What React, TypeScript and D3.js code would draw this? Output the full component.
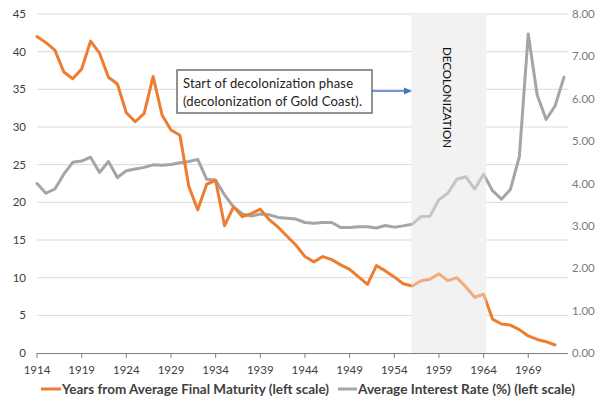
import React from "react";
import * as d3 from "d3";

const years: number[] = d3.range(1914, 1974);

const maturity: (number | null)[] = [
  42.0, 41.2, 40.2, 37.3, 36.4, 37.7, 41.4, 39.8, 36.6, 35.7,
  31.9, 30.7, 31.8, 36.7, 31.6, 29.6, 28.9, 22.1, 19.0, 22.4,
  22.9, 16.9, 19.4, 18.1, 18.5, 19.1, 17.7, 16.7, 15.5, 14.3,
  12.8, 12.1, 12.8, 12.4, 11.7, 11.1, 10.1, 9.1, 11.6, 10.9,
  10.1, 9.2, 8.9, 9.6, 9.8, 10.5, 9.6, 10.0, 8.8, 7.4,
  7.8, 4.5, 3.85, 3.7, 3.1, 2.26, 1.8, 1.5, 1.06, null,
];

const interest: number[] = [
  4.0, 3.77, 3.87, 4.22, 4.5, 4.53, 4.62, 4.26, 4.52, 4.14,
  4.3, 4.34, 4.38, 4.44, 4.43, 4.45, 4.49, 4.52, 4.57, 4.1,
  4.08, 3.73, 3.45, 3.28, 3.23, 3.28, 3.26, 3.2, 3.18, 3.16,
  3.08, 3.06, 3.08, 3.08, 2.96, 2.96, 2.98, 2.98, 2.95, 3.01,
  2.97, 3.0, 3.04, 3.22, 3.23, 3.62, 3.77, 4.1, 4.16, 3.87,
  4.22, 3.83, 3.63, 3.86, 4.63, 7.53, 6.09, 5.51, 5.83, 6.51,
];

const leftTicks: number[] = [0, 5, 10, 15, 20, 25, 30, 35, 40, 45];
const rightTicks: number[] = [0, 1, 2, 3, 4, 5, 6, 7, 8];
const xTickYears: number[] = [1914, 1919, 1924, 1929, 1934, 1939, 1944, 1949, 1954, 1959, 1964, 1969];
const bandYears: [number, number] = [1955.9, 1964.3];

const seriesNames = [
  "Years from Average Final Maturity (left scale)",
  "Average Interest Rate (%) (left scale)",
];
const annotationLines = ["Start of decolonization phase", "(decolonization of Gold Coast)."];
const bandLabel = "DECOLONIZATION";

const ORANGE = "#ED7D31";
const GRAY = "#A5A5A5";
const FONT = "Lato, 'Open Sans', sans-serif";

export default function App() {
  const W = 600, H = 401;
  const x = d3.scaleLinear().domain([1914, 1973.45]).range([37, 568]);
  const yL = d3.scaleLinear().domain([0, 45]).range([353, 14]);
  const yR = d3.scaleLinear().domain([0, 8]).range([353, 14]);

  const lineL = d3
    .line<number | null>()
    .defined((d) => d !== null)
    .x((_, i) => x(years[i]))
    .y((d) => yL(d as number));
  const lineR = d3
    .line<number>()
    .x((_, i) => x(years[i]))
    .y((d) => yR(d));

  const bx0 = x(bandYears[0]);
  const bx1 = x(bandYears[1]);

  return (
    <svg
      width={W}
      height={H}
      style={{ position: "absolute", left: 0, top: 0, background: "#fff" }}
      fontFamily={FONT}
    >
      <rect x={0} y={0} width={W} height={H} fill="#fff" />
      {leftTicks.slice(1).map((t) => (
        <line key={t} x1={37} x2={568} y1={yL(t)} y2={yL(t)} stroke="#d9d9d9" strokeWidth={1} />
      ))}
      <rect x={bx0} y={14} width={bx1 - bx0} height={353 - 14} fill="#f2f2f2" />
      <path d={lineR(interest) || ""} fill="none" stroke={GRAY} strokeWidth={3} strokeLinejoin="round" strokeLinecap="round" />
      <path d={lineL(maturity) || ""} fill="none" stroke={ORANGE} strokeWidth={3} strokeLinejoin="round" strokeLinecap="round" />
      <rect x={bx0} y={14} width={bx1 - bx0} height={353 - 14} fill="#f2f2f2" opacity={0.4} />
      <text
        transform={`translate(${(bx0 + bx1) / 2 - 1},97.5) rotate(90)`}
        textAnchor="middle"
        dominantBaseline="central"
        fontSize={12}
        fill="#111"
        textLength={101}
        lengthAdjust="spacingAndGlyphs"
      >
        {bandLabel}
      </text>
      <line x1={37} x2={568} y1={353.5} y2={353.5} stroke="#7f7f7f" strokeWidth={1} />
      {xTickYears.map((yr) => (
        <g key={yr}>
          <line x1={x(yr)} x2={x(yr)} y1={353} y2={358} stroke="#7f7f7f" strokeWidth={1} />
          <text x={x(yr)} y={374} textAnchor="middle" fontSize={11.5} fill="#404040">
            {yr}
          </text>
        </g>
      ))}
      {leftTicks.map((t) => (
        <text key={t} x={26} y={yL(t)} dy="0.35em" textAnchor="end" fontSize={11.5} fill="#404040">
          {t}
        </text>
      ))}
      {rightTicks.map((t) => (
        <text key={t} x={572} y={yR(t)} dy="0.35em" textAnchor="start" fontSize={11.5} fill="#7a7a7a">
          {t.toFixed(2)}
        </text>
      ))}
      <rect x={177} y={70} width={195} height={43} fill="#fff" stroke="#6f6f6f" strokeWidth={1.5} />
      {annotationLines.map((s, i) => (
        <text
          key={i}
          x={183}
          y={83 + i * 18}
          dy="0.35em"
          fontSize={13}
          fill="#222"
          textLength={i === 0 ? 170 : 179}
          lengthAdjust="spacing"
        >
          {s}
        </text>
      ))}
      <line x1={372} x2={405} y1={91} y2={91} stroke="#4472C4" strokeWidth={1.5} />
      <path d="M404,87.5 L412,91 L404,94.5 Z" fill="#4472C4" />
      <line x1={41} x2={61} y1={389} y2={389} stroke={ORANGE} strokeWidth={3} />
      <text
        x={62}
        y={389}
        dy="0.35em"
        fontSize={13.5}
        fontWeight="bold"
        fill="#404040"
        textLength={267}
        lengthAdjust="spacingAndGlyphs"
      >
        {seriesNames[0]}
      </text>
      <line x1={338} x2={357} y1={389} y2={389} stroke={GRAY} strokeWidth={3} />
      <text
        x={358}
        y={389}
        dy="0.35em"
        fontSize={13.5}
        fontWeight="bold"
        fill="#404040"
        textLength={217}
        lengthAdjust="spacingAndGlyphs"
      >
        {seriesNames[1]}
      </text>
    </svg>
  );
}
